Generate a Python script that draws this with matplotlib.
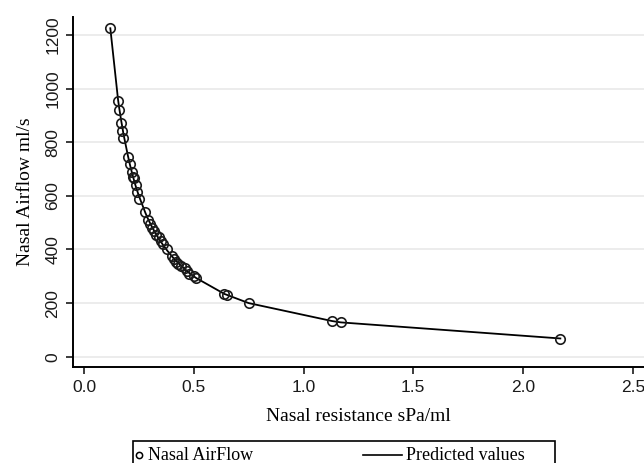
import numpy as np
import matplotlib.pyplot as plt
from matplotlib.lines import Line2D
from matplotlib.patches import Rectangle

# Nasal resistance (sPa/ml) vs nasal airflow (ml/s)
resistance = [0.12, 0.155, 0.16, 0.17, 0.175, 0.18, 0.20, 0.21, 0.22, 0.225,
              0.23, 0.235, 0.24, 0.25, 0.28, 0.29, 0.30, 0.31, 0.32, 0.33,
              0.34, 0.35, 0.36, 0.38, 0.40, 0.41, 0.42, 0.43, 0.44, 0.46,
              0.47, 0.48, 0.50, 0.51, 0.64, 0.65, 0.75, 1.13, 1.17, 2.17]
airflow = [1225, 955, 920, 870, 840, 815, 745, 720, 690, 670,
           665, 640, 615, 590, 540, 510, 495, 480, 470, 455,
           445, 430, 420, 400, 375, 365, 355, 345, 340, 330,
           320, 310, 300, 295, 235, 230, 200, 132, 128, 67]
predicted = [1225, 960, 930, 878, 855, 830, 750, 714, 682, 667,
             652, 638, 625, 600, 536, 517, 500, 484, 469, 455,
             441, 429, 417, 395, 375, 366, 357, 349, 341, 326,
             319, 312, 300, 294, 234, 231, 200, 133, 128, 68]

xticks = [0.0, 0.5, 1.0, 1.5, 2.0, 2.5]
yticks = [0, 200, 400, 600, 800, 1000, 1200]

W, H = 644, 463
fig = plt.figure(figsize=(W / 100, H / 100), dpi=100)
fig.patch.set_facecolor('white')

def fx(px):
    return px / W

def fy(py):
    return 1 - py / H

ax = fig.add_axes([fx(73), fy(367), 1 - fx(73), fy(17) - fy(367)])
ax.set_xlim(-0.05, 2.551)
ax.set_ylim(-38.4, 1267)

for t in yticks:
    ax.axhline(t, color='#eaeaea', lw=1.3, zorder=0)

ax.plot(resistance, predicted, color='black', lw=1.3, zorder=2)
ax.plot(resistance, airflow, 'o', mfc='none', mec='#1a1a1a', mew=1.2,
        ms=6.8, zorder=3)

for s in ['top', 'right']:
    ax.spines[s].set_visible(False)
for s in ['left', 'bottom']:
    ax.spines[s].set_linewidth(1.4)

ax.set_xticks(xticks)
ax.set_xticklabels([f'{t:.1f}' for t in xticks])
ax.set_yticks(yticks)
ax.set_yticklabels([str(t) for t in yticks], rotation=90, va='center')
ax.tick_params(direction='out', length=5, width=1.2, labelsize=12.5,
               pad=4, colors='#1a1a1a')
for lab in ax.get_xticklabels() + ax.get_yticklabels():
    lab.set_family('Liberation Sans')

ax.set_xlabel('Nasal resistance sPa/ml', family='Liberation Serif',
              fontsize=14, labelpad=10)
ax.set_ylabel('Nasal Airflow ml/s', family='Liberation Serif',
              fontsize=14, labelpad=8)

# legend box, cut off at the bottom like the original
fig.patches.append(Rectangle((fx(133), fy(470)), fx(555) - fx(133),
                             fy(441) - fy(470), transform=fig.transFigure,
                             fill=False, ec='black', lw=1.2))
fig.lines.append(Line2D([fx(139)], [fy(455)], marker='o', ms=4.5,
                        mfc='none', mec='black', mew=1.1,
                        transform=fig.transFigure))
fig.text(fx(148), fy(455), 'Nasal AirFlow', family='Liberation Serif',
         fontsize=13, va='center', ha='left')
fig.lines.append(Line2D([fx(363), fx(402)], [fy(455), fy(455)],
                        color='black', lw=1.2, transform=fig.transFigure))
fig.text(fx(406), fy(455), 'Predicted values', family='Liberation Serif',
         fontsize=13, va='center', ha='left')

plt.savefig('out.png', dpi=100)
